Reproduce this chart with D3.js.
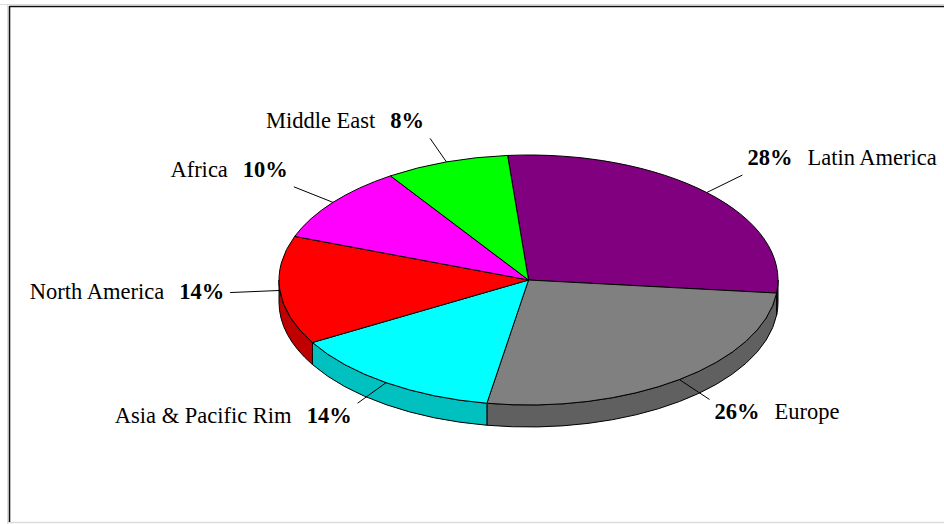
<!DOCTYPE html>
<html>
<head>
<meta charset="utf-8">
<script src="https://cdn.jsdelivr.net/npm/d3@7"></script>
<style>
  html, body { margin: 0; padding: 0; background: #fff; }
  svg { display: block; }
</style>
</head>
<body>
<script>
// ---- data ----
const categories = ["Latin America", "Europe", "Asia & Pacific Rim", "North America", "Africa", "Middle East"];
const values = [28, 26, 14, 14, 10, 8];
const topColors = ["#800080", "#808080", "#00FFFF", "#FF0000", "#FF00FF", "#00FF00"];
const sideColors = ["#600060", "#606060", "#00C0C0", "#C00000", "#C000C0", "#00C000"];

// ---- layout ----
const W = 944, H = 524;
const cx = 528.5, cy = 280, rx = 249.5, ry = 125, depth = 22;
const startDeg = -4.8;
const font = "'Liberation Serif', 'Times New Roman', serif";
const fontSize = 22.5;

const svg = d3.select("body").append("svg").attr("width", W).attr("height", H);

// frame
svg.append("line").attr("x1", 0).attr("x2", W).attr("y1", 4.5).attr("y2", 4.5).attr("stroke", "#dcdcdc").attr("stroke-width", 1);
svg.append("line").attr("x1", 7.5).attr("x2", 7.5).attr("y1", 4).attr("y2", H).attr("stroke", "#dcdcdc").attr("stroke-width", 1);
svg.append("line").attr("x1", 7).attr("x2", W).attr("y1", 522.5).attr("y2", 522.5).attr("stroke", "#dcdcdc").attr("stroke-width", 1.5);
svg.append("line").attr("x1", 9.5).attr("x2", W).attr("y1", 6.5).attr("y2", 6.5).attr("stroke", "#111").attr("stroke-width", 1.6);
svg.append("line").attr("x1", 9.5).attr("x2", 9.5).attr("y1", 6).attr("y2", 522).attr("stroke", "#111").attr("stroke-width", 1.6);

const rad = d => d * Math.PI / 180;
const pie = d3.pie().sort(null).value(d => d.value)
  .startAngle(rad(startDeg)).endAngle(rad(startDeg) + 2 * Math.PI);

const data = categories.map((c, i) => ({ name: c, value: values[i], top: topColors[i], side: sideColors[i] }));
const arcs = pie(data);

// projection of an angle (clockwise from top) onto the ellipse
const px = (a, k = 1) => cx + rx * k * Math.sin(a);
const py = (a, k = 1) => cy - ry * k * Math.cos(a);

// side walls (front half: angles between 90 and 270 degrees)
const frontA = Math.PI / 2, frontB = 3 * Math.PI / 2;
const gSide = svg.append("g");
arcs.forEach(d => {
  const b0 = Math.max(d.startAngle, frontA), b1 = Math.min(d.endAngle, frontB);
  if (b1 <= b0) return;
  const path = `M${px(b0)},${py(b0)} A${rx},${ry} 0 0 1 ${px(b1)},${py(b1)} L${px(b1)},${py(b1) + depth} A${rx},${ry} 0 0 0 ${px(b0)},${py(b0) + depth} Z`;
  gSide.append("path").attr("d", path)
    .attr("fill", d.data.side).attr("stroke", "#000").attr("stroke-width", 1).attr("stroke-linejoin", "round");
});

// top faces
const gTop = svg.append("g");
arcs.forEach(d => {
  const a0 = d.startAngle, a1 = d.endAngle;
  const large = (a1 - a0) > Math.PI ? 1 : 0;
  const path = `M${cx},${cy} L${px(a0)},${py(a0)} A${rx},${ry} 0 ${large} 1 ${px(a1)},${py(a1)} Z`;
  gTop.append("path").attr("d", path)
    .attr("fill", d.data.top).attr("stroke", "#000").attr("stroke-width", 1).attr("stroke-linejoin", "round");
});

// leaders and labels
const gLab = svg.append("g");
arcs.forEach(d => {
  const m = (d.startAngle + d.endAngle) / 2;
  const x1 = px(m, 1), y1 = py(m, 1);
  const x2 = px(m, 1.2), y2 = py(m, 1.2);
  gLab.append("line").attr("x1", x1).attr("y1", y1).attr("x2", x2).attr("y2", y2)
    .attr("stroke", "#000").attr("stroke-width", 1);
  const right = Math.sin(m) > 0;
  const c = Math.cos(m);
  const dy = c > 0.3 ? -10 : (c < -0.3 ? 20 : 6);
  const t = gLab.append("text")
    .attr("x", right ? x2 + 5 : x2 - 6)
    .attr("y", y2 + dy)
    .attr("text-anchor", right ? "start" : "end")
    .attr("font-family", font).attr("font-size", fontSize).attr("fill", "#000");
  const pct = `${d.data.value}%`;
  if (right) {
    t.append("tspan").attr("font-weight", "bold").text(pct);
    t.append("tspan").attr("dx", 15).text(d.data.name);
  } else {
    t.append("tspan").text(d.data.name);
    t.append("tspan").attr("dx", 15).attr("font-weight", "bold").text(pct);
  }
});
</script>
</body>
</html>
